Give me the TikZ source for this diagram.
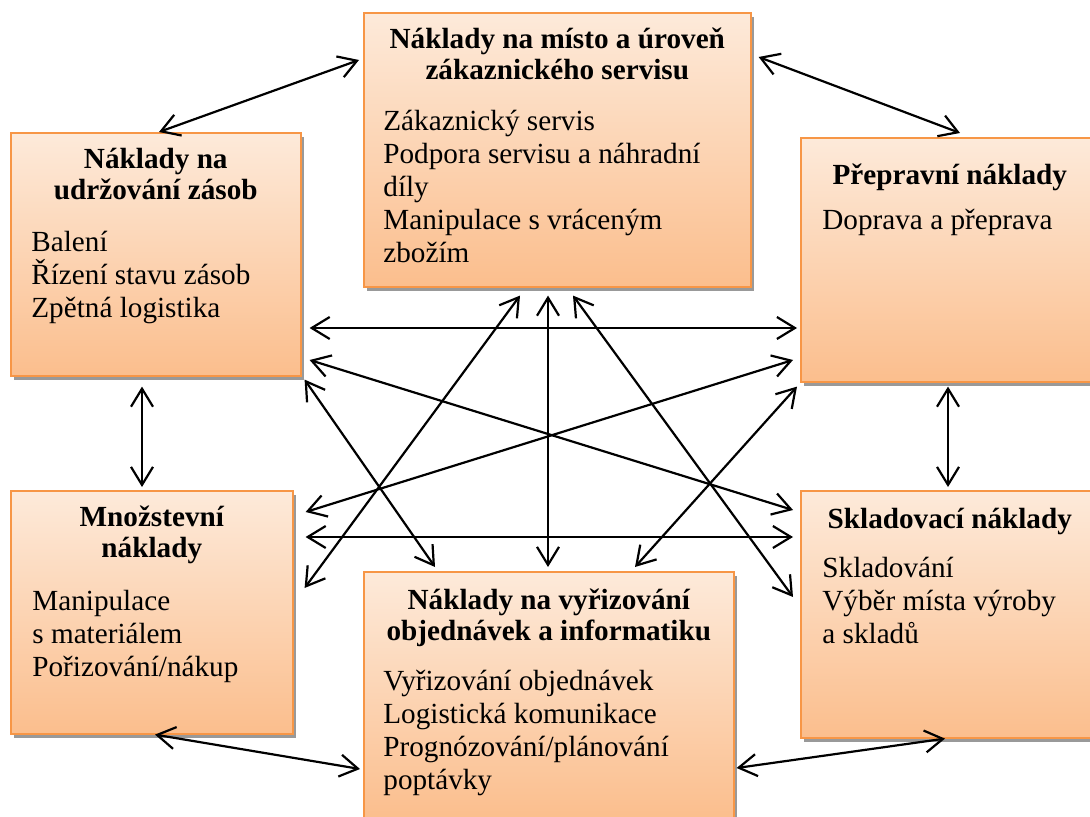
\documentclass[tikz,border=0pt]{standalone}
\usepackage{fontspec}
\setmainfont{Liberation Serif}
\usetikzlibrary{calc,shadows,arrows.meta}
\definecolor{boxtop}{RGB}{253,234,218}
\definecolor{boxbot}{RGB}{251,190,141}
\definecolor{boxline}{RGB}{247,150,70}

\begin{document}
\begin{tikzpicture}[x=0.5pt,y=-0.5pt,
    costbox/.style={draw=boxline,line width=0.8pt,top color=boxtop,bottom color=boxbot,
      anchor=north west,inner sep=0pt,
      drop shadow={shadow xshift=1.5pt,shadow yshift=-2pt,fill=black!40,opacity=1}},
    head/.style={anchor=base,align=center,inner sep=0pt,
      font=\fontsize{14.6}{15.5}\selectfont\bfseries},
    items/.style={anchor=base west,align=left,inner sep=0pt,
      font=\fontsize{14.6}{16.5}\selectfont},
    link/.style={<->,line width=1.1pt,>={Straight Barb[length=9pt,width=11pt]}}]
  \useasboundingbox (0,0) rectangle (1090,817);
  % boxes
  \node at (10,132) [costbox,minimum width=145pt,minimum height=121.5pt] (zas) {};
  \node at (363,12) [costbox,minimum width=193.5pt,minimum height=137pt] (serv) {};
  \node at (800,137) [costbox,minimum width=146pt,minimum height=122pt] (prep) {};
  \node at (10,490) [costbox,minimum width=141pt,minimum height=121.5pt] (mnoz) {};
  \node at (363,571) [costbox,minimum width=185pt,minimum height=123.5pt] (obj) {};
  \node at (800,490) [costbox,minimum width=146pt,minimum height=123.5pt] (sklad) {};
  % texts (base = last line)
  \node at ($(zas.north)+(0,68)$) [head] (zasT) {Náklady na\\udržování zásob};
  \node at ($(zas.north west)+(21,186)$) [items] (zasI) {Balení\\Řízení stavu zásob\\Zpětná logistika};
  \node at ($(serv.north)+(0,68)$) [head] (servT) {Náklady na místo a úroveň\\zákaznického servisu};
  \node at ($(serv.north west)+(20,251)$) [items] (servI) {Zákaznický servis\\Podpora servisu a náhradní\\díly\\Manipulace s vráceným\\zbožím};
  \node at ($(prep.north)+(3,48)$) [head] (prepT) {Přepravní náklady};
  \node at ($(prep.north west)+(22,93)$) [items] (prepI) {Doprava a přeprava};
  \node at ($(mnoz.north)+(0,67)$) [head] (mnozT) {Množstevní\\náklady};
  \node at ($(mnoz.north west)+(22,186)$) [items] (mnozI) {Manipulace\\s materiálem\\Pořizování/nákup};
  \node at ($(obj.north)+(0,69)$) [head] (objT) {Náklady na vyřizování\\objednávek a informatiku};
  \node at ($(obj.north west)+(20,218)$) [items] (objI) {Vyřizování objednávek\\Logistická komunikace\\Prognózování/plánování\\poptávky};
  \node at ($(sklad.north)+(3,38)$) [head] (skladT) {Skladovací náklady};
  \node at ($(sklad.north west)+(22,153)$) [items] (skladI) {Skladování\\Výběr místa výroby\\a skladů};
  % outer links
  \draw[link] ($(zas.north west)+(149,0)$) -- ($(serv.north west)+(-4,48)$);
  \draw[link] ($(serv.north east)+(7,45)$) -- ($(prep.north west)+(160,-4)$);
  \draw[link] ($(zas.south west)+(132,10)$) -- ($(mnoz.north west)+(132,-3)$);
  \draw[link] ($(prep.south west)+(148,4)$) -- ($(sklad.north west)+(148,-3)$);
  \draw[link] ($(mnoz.south west)+(145,0)$) -- ($(obj.north west)+(-3,198)$);
  \draw[link] ($(obj.north east)+(2,197)$) -- ($(sklad.south west)+(145,0)$);
  % inner links
  \draw[link] ($(zas.north east)+(8,196)$) -- ($(prep.north west)+(-3,191)$);
  \draw[link] ($(zas.north east)+(8,228)$) -- ($(sklad.north west)+(-7,20)$);
  \draw[link] ($(mnoz.north east)+(12,22)$) -- ($(prep.north west)+(-7,223)$);
  \draw[link] ($(mnoz.north east)+(12,47)$) -- ($(sklad.north west)+(-7,47)$);
  \draw[link] ($(serv.south west)+(185,8)$) -- ($(obj.north west)+(185,-4)$);
  \draw[link] ($(serv.south west)+(157,8)$) -- ($(mnoz.north east)+(11,98)$);
  \draw[link] ($(serv.south west)+(210,8)$) -- ($(sklad.north west)+(-7,107)$);
  \draw[link] ($(zas.south east)+(3,3)$) -- ($(obj.north west)+(72,-4)$);
  \draw[link] ($(prep.south west)+(-3,4)$) -- ($(obj.north west)+(272,-4)$);
\end{tikzpicture}
\end{document}
